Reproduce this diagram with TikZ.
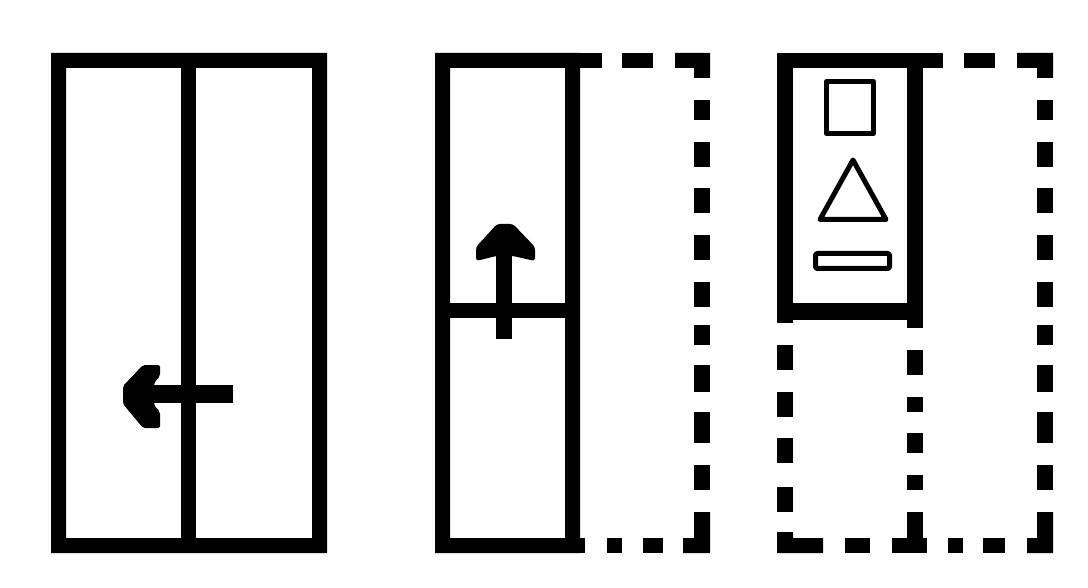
\documentclass[tikz,border=0pt]{standalone}
\begin{document}
\begin{tikzpicture}[x=1pt,y=-1pt,
  ink/.style={fill=black},
  thin icon/.style={draw=black,line width=5pt,line join=round}]
\useasboundingbox (0,0) rectangle (1088,588);
\fill[white] (0,0) rectangle (1088,588);
% ---------- Panel 1 ----------
\fill[ink,even odd rule] (51,53) rectangle (327,553) (66,68) rectangle (312,538);
\fill[ink] (181,68) rectangle (196,538);
% left arrow
\fill[ink] (154,385) rectangle (233,403);
\fill[ink,rounded corners=2pt] (123,386) -- (143,365) -- (160,365) -- (160,376) -- (154,383) -- (154,405) -- (160,412) -- (160,428) -- (143,428) -- (123,404) -- cycle;
% ---------- Panel 2 ----------
\fill[ink,even odd rule] (435,53) rectangle (580,553) (450,68) rectangle (565,538);
\fill[ink] (580,53) rectangle (602,68);
\fill[ink] (580,538) rectangle (585,553);
\fill[ink] (450,303) rectangle (565,318);
% up arrow
\fill[ink] (496,254) rectangle (512,339);
\fill[ink,rounded corners=3pt] (497,224) -- (513,224) -- (535,247) -- (535,261) -- (513,256) -- (496,256) -- (476,261) -- (476,247) -- cycle;
% dashes
\fill[ink] (622,53) rectangle (653,68);
\fill[ink] (675,53) -- (710,53) -- (710,78) -- (694,78) -- (694,68) -- (675,68) -- cycle;
\foreach \a/\b in {100/120,142/167,188/213,235/260,282/307,325/345,365/392,412/443,465/490}
  \fill[ink] (694,\a) rectangle (710,\b);
\fill[ink] (694,512) -- (710,512) -- (710,553) -- (683,553) -- (683,538) -- (694,538) -- cycle;
\fill[ink] (607,538) rectangle (622,553);
\fill[ink] (643,538) rectangle (663,553);
% ---------- Panel 3 ----------
\fill[ink] (777,53) rectangle (943,68);
\fill[ink] (777,53) rectangle (793,323);
\fill[ink] (907,53) rectangle (923,328);
\fill[ink] (777,303) rectangle (923,320);
% icons
\draw[thin icon] (826.5,81.5) rectangle (873.5,133.5);
\draw[thin icon,line cap=round] (853,160) -- (886,219.5) -- (820,219.5) -- cycle;
\draw[thin icon,rounded corners=1.5pt] (815.5,253.5) rectangle (889.5,268.5);
% dashes
\fill[ink] (964,53) rectangle (995,68);
\fill[ink] (1017,53) -- (1053,53) -- (1053,78) -- (1037,78) -- (1037,68) -- (1017,68) -- cycle;
\foreach \a/\b in {100/120,142/167,188/213,235/260,282/307,325/345,365/392,412/443,465/490}
  \fill[ink] (1037,\a) rectangle (1053,\b);
\fill[ink] (1037,512) -- (1053,512) -- (1053,553) -- (1027,553) -- (1027,538) -- (1037,538) -- cycle;
\fill[ink] (983,538) rectangle (1005,553);
\fill[ink] (948,538) rectangle (963,553);
\fill[ink] (892,538) rectangle (927,553);
\fill[ink] (907,512) rectangle (923,538);
\fill[ink] (845,538) rectangle (870,553);
\fill[ink] (777,532) -- (793,532) -- (793,538) -- (823,538) -- (823,553) -- (777,553) -- cycle;
\foreach \a/\b in {345/370,392/417,438/463,487/512}
  \fill[ink] (777,\a) rectangle (793,\b);
\foreach \a/\b in {350/375,397/412,433/453,475/490}
  \fill[ink] (907,\a) rectangle (923,\b);
\end{tikzpicture}
\end{document}
